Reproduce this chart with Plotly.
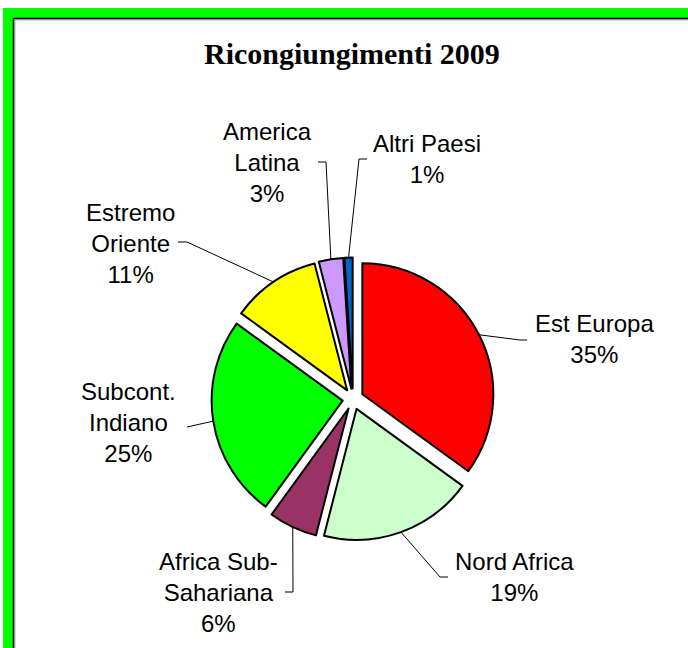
import math
import plotly.graph_objects as go

# ---------------- data ----------------
categories = ["Est Europa", "Nord Africa", "Africa Sub-Sahariana", "Subcont. Indiano",
              "Estremo Oriente", "America Latina", "Altri Paesi"]
label_text = ["Est Europa", "Nord Africa", "Africa Sub-<br>Sahariana", "Subcont.<br>Indiano",
              "Estremo<br>Oriente", "America<br>Latina", "Altri Paesi"]
values = [35, 19, 6, 25, 11, 3, 1]
colors = ["#FF0000", "#CCFFCC", "#993366", "#00FF00", "#FFFF00", "#CC99FF", "#0066CC"]

# ---------------- layout constants ----------------
W, H = 688, 648
PULL = 0.08
CX, CY = 353.0, 399.0       # pie centre (px)
R = 131.0                   # pie radius (px)
HALF = R * (1 + PULL)

# label block centres (px) and leader-line label-side points (px)
label_pos = [(594, 339), (514, 577), (218, 592), (128, 422), (130, 243), (267, 162), (427, 159)]
leader_pts = [
    [(520, 340), (527, 340)],
    [(440, 577), (448, 577)],
    [(293, 592), (285, 592)],
    [(187, 427)],
    [(187, 242), (178, 242)],
    [(326, 162), (318, 162)],
    [(359, 159), (367, 159)],
]


def px(x):
    return x / W


def py(y):
    return 1 - y / H


fig = go.Figure()
fig.add_trace(go.Pie(
    labels=categories, values=values, sort=False, direction="clockwise", rotation=0,
    pull=[PULL] * len(values), textinfo="none", hoverinfo="label+percent",
    marker=dict(colors=colors, line=dict(color="black", width=2)),
    domain=dict(x=[px(CX - HALF), px(CX + HALF)], y=[py(CY + HALF), py(CY - HALF)]),
    showlegend=False,
))

shapes = []
# frame: green border + black inner line
shapes.append(dict(type="rect", xref="paper", yref="paper", x0=px(3), x1=px(13), y0=py(648), y1=py(8),
                   fillcolor="#00FF00", line=dict(width=0), layer="above"))
shapes.append(dict(type="rect", xref="paper", yref="paper", x0=px(3), x1=px(688), y0=py(18), y1=py(8),
                   fillcolor="#00FF00", line=dict(width=0), layer="above"))
shapes.append(dict(type="line", xref="paper", yref="paper", x0=px(13.5), x1=px(13.5), y0=py(18), y1=py(648),
                   line=dict(color="black", width=1.5)))
shapes.append(dict(type="line", xref="paper", yref="paper", x0=px(13), x1=px(688), y0=py(18.5), y1=py(18.5),
                   line=dict(color="black", width=1.5)))
shapes.append(dict(type="line", xref="paper", yref="paper", x0=px(14.8), x1=px(14.8), y0=py(20), y1=py(648),
                   line=dict(color="#808080", width=1)))
shapes.append(dict(type="line", xref="paper", yref="paper", x0=px(15), x1=px(688), y0=py(19.8), y1=py(19.8),
                   line=dict(color="#808080", width=1)))

annotations = []
total = sum(values)
cum = 0.0
for i, v in enumerate(values):
    mid = (cum + v / 2) / total * 2 * math.pi
    cum += v
    dx, dy = math.sin(mid), -math.cos(mid)
    sx = CX + dx * (PULL * R + R)
    sy = CY + dy * (PULL * R + R)
    pts = [(sx, sy)] + leader_pts[i]
    path = "M " + " L ".join(f"{px(x)},{py(y)}" for x, y in pts)
    shapes.append(dict(type="path", xref="paper", yref="paper", path=path,
                       line=dict(color="black", width=1)))
    lx, ly = label_pos[i]
    annotations.append(dict(
        x=px(lx), y=py(ly), xref="paper", yref="paper", xanchor="center", yanchor="middle",
        showarrow=False, align="center",
        text=f"{label_text[i]}<br>{v / total * 100:.0f}%",
        font=dict(family="Liberation Sans, Arial", size=24, color="black"),
    ))

annotations.append(dict(
    x=px(352), y=py(53), xref="paper", yref="paper", xanchor="center", yanchor="middle",
    showarrow=False, text="<b>Ricongiungimenti 2009</b>",
    font=dict(family="Liberation Serif, Times New Roman", size=30, color="black"),
))

fig.update_layout(
    width=W, height=H, autosize=False,
    margin=dict(l=0, r=0, t=0, b=0),
    paper_bgcolor="white", plot_bgcolor="white",
    shapes=shapes, annotations=annotations,
)

fig.write_html("out.html", config={"displayModeBar": False},
               post_script="document.body.style.margin='0px';document.body.style.padding='0px';")
